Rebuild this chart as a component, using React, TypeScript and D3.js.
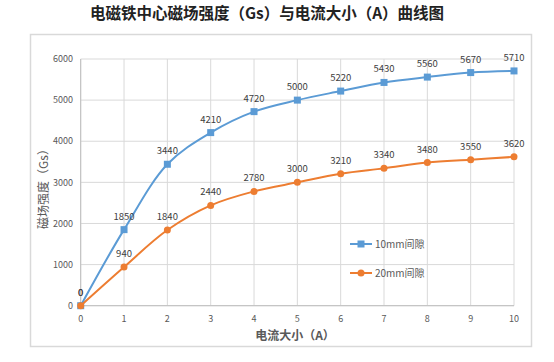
import React from "react";
import * as d3 from "d3";

const currents = [0, 1, 2, 3, 4, 5, 6, 7, 8, 9, 10];
const gap10 = [0, 1850, 3440, 4210, 4720, 5000, 5220, 5430, 5560, 5670, 5710];
const gap20 = [0, 940, 1840, 2440, 2780, 3000, 3210, 3340, 3480, 3550, 3620];
const yTicks = [0, 1000, 2000, 3000, 4000, 5000, 6000];
const seriesNames = ["10mm间隙", "20mm间隙"];
const title = "电磁铁中心磁场强度（Gs）与电流大小（A）曲线图";
const xTitle = "电流大小（A）";
const yTitle = "磁场强度（Gs）";

const W = 554;
const H = 362;
const BLUE = "#5B9BD5";
const ORANGE = "#ED7D31";
const GRID = "#D9D9D9";
const TXT = "#595959";
const FONT = "'Noto Sans CJK SC', 'Noto Sans', sans-serif";

export default function App() {
  const x = d3.scaleLinear().domain([0, 10]).range([80.7, 514]);
  const y = d3.scaleLinear().domain([0, 6000]).range([305.7, 59]);
  const line = d3
    .line<number>()
    .x((_, i) => x(currents[i]))
    .y((d) => y(d))
    .curve(d3.curveCatmullRom.alpha(0.5));

  const series = [
    { name: seriesNames[0], data: gap10, color: BLUE, marker: "square" },
    { name: seriesNames[1], data: gap20, color: ORANGE, marker: "circle" },
  ];

  return (
    <svg
      width={W}
      height={H}
      style={{ position: "absolute", left: 0, top: 0, background: "#fff" }}
      fontFamily={FONT}
    >
      <rect x={0} y={0} width={W} height={H} fill="#fff" />
      <text
        x={267}
        y={19}
        textAnchor="middle"
        fontSize={15.5}
        fontWeight="bold"
        fill="#222"
      >
        {title}
      </text>
      <rect x={30.5} y={34.5} width={501} height={312} fill="#fff" stroke={GRID} strokeWidth={1.5} />

      {/* grid */}
      {yTicks.map((t) => (
        <line key={"gy" + t} x1={x(0)} x2={x(10)} y1={y(t)} y2={y(t)} stroke={GRID} strokeWidth={1} />
      ))}
      {currents.map((c) => (
        <line key={"gx" + c} x1={x(c)} x2={x(c)} y1={y(0)} y2={y(6000)} stroke={GRID} strokeWidth={1} />
      ))}
      <line x1={x(0)} x2={x(10)} y1={y(0)} y2={y(0)} stroke="#BFBFBF" strokeWidth={1} />
      <line x1={x(0)} x2={x(0)} y1={y(0)} y2={y(6000)} stroke="#BFBFBF" strokeWidth={1} />

      {/* ticks */}
      {yTicks.map((t) => (
        <text key={"ty" + t} x={73} y={y(t) + 3.2} textAnchor="end" fontSize={9} fill={TXT}>
          {t}
        </text>
      ))}
      {currents.map((c) => (
        <text key={"tx" + c} x={x(c)} y={322} textAnchor="middle" fontSize={9} fill={TXT}>
          {c}
        </text>
      ))}

      {/* axis titles */}
      <text x={295} y={340} textAnchor="middle" fontSize={12} fontWeight="bold" fill={TXT}>
        {xTitle}
      </text>
      <text
        transform={`translate(48,186) rotate(-90)`}
        textAnchor="middle"
        fontSize={12}
        fill={TXT}
      >
        {yTitle}
      </text>

      {/* series */}
      {series.map((s) => (
        <g key={s.name}>
          <path d={line(s.data) || ""} fill="none" stroke={s.color} strokeWidth={2} />
          {s.data.map((v, i) =>
            s.marker === "square" ? (
              <rect key={i} x={x(currents[i]) - 3.5} y={y(v) - 3.5} width={7} height={7} fill={s.color} />
            ) : (
              <circle key={i} cx={x(currents[i])} cy={y(v)} r={3.5} fill={s.color} />
            )
          )}
          {s.data.map((v, i) => (
            <text key={"l" + i} x={x(currents[i])} y={y(v) - 10} textAnchor="middle" fontSize={9.5} fill="#404040">
              {v}
            </text>
          ))}
        </g>
      ))}

      {/* legend */}
      {series.map((s, i) => {
        const ly = 244 + i * 29;
        return (
          <g key={"lg" + i}>
            <line x1={350} x2={372} y1={ly} y2={ly} stroke={s.color} strokeWidth={2} />
            {s.marker === "square" ? (
              <rect x={361 - 3.5} y={ly - 3.5} width={7} height={7} fill={s.color} />
            ) : (
              <circle cx={361} cy={ly} r={3.5} fill={s.color} />
            )}
            <text x={375} y={ly + 3.5} fontSize={10} fill={TXT}>
              {s.name}
            </text>
          </g>
        );
      })}
    </svg>
  );
}
